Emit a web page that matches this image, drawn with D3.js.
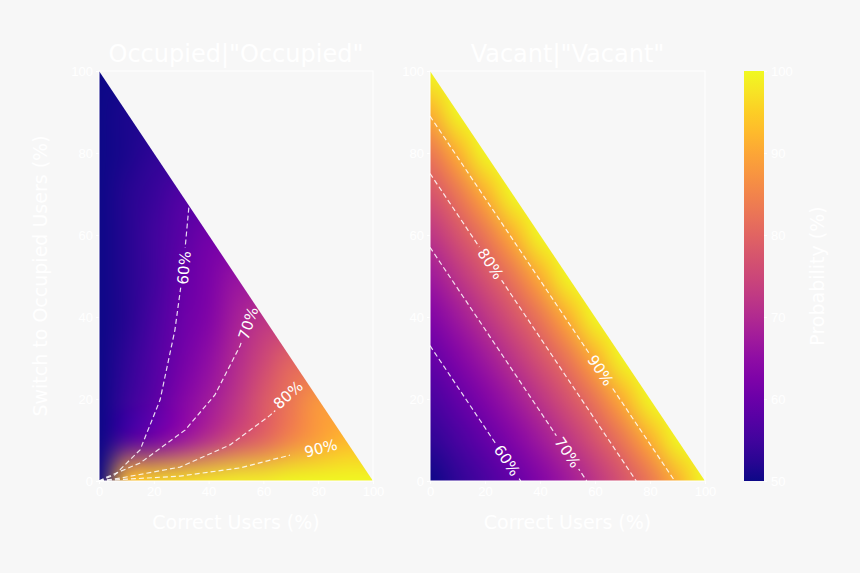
<!DOCTYPE html>
<html><head><meta charset="utf-8">
<script src="https://cdn.jsdelivr.net/npm/d3@7"></script>
<style>body{margin:0;background:#f7f7f7}svg{font-family:"DejaVu Sans",sans-serif}</style>
</head><body><div id="chart"></div>
<script>
// read-off estimates, rows = switch users 0..100 step 10, cols = correct users 0..(100-s)
const occupiedGrid = [
  [50, 93, 96, 97, 98, 99, 99, 100, 100, 100, 100],
  [50, 56, 61, 66, 71, 76, 80, 85, 89, 92],
  [50, 54, 58, 63, 67, 72, 78, 83, 88],
  [50, 53, 57, 61, 65, 70, 75, 80],
  [50, 52, 56, 60, 63, 68, 72],
  [50, 52, 55, 59, 62, 66],
  [50, 52, 55, 58, 61],
  [50, 52, 54, 57],
  [50, 51, 53],
  [50, 51],
  [50]
];
// vacant panel depends on correct + switch total, 0..100 step 10
const vacantByTotal = [50, 53, 56, 59, 63, 67, 72, 77, 83, 91, 100];

// contour lines [correct, switch]
const occContours = [
  {label: '60%', pts: [[0,0],[5.8,1.5],[15,7.6],[22.3,19.8],[27.7,36.8],[30.7,51.5],[32.8,66.8]], at: [31, 52]},
  {label: '70%', pts: [[0,0],[2,0.7],[15,4.4],[31.4,12.4],[42.3,21],[51.5,33],[54,38]], at: [54.5, 38.5]},
  {label: '80%', pts: [[0,0],[7.7,0.7],[29.6,3.4],[47.8,8.8],[62.4,16],[69,20]], at: [69, 21]},
  {label: '90%', pts: [[0,0],[4,0.2],[29.6,1.2],[51.5,3.2],[69.7,6.3]], at: [81, 8]}
];
const vacContours = [
  {label: '60%', total: 33, at: [28, 5]},
  {label: '70%', total: 57, at: [50, 7]},
  {label: '80%', total: 75, at: [22, 53]},
  {label: '90%', total: 89, at: [62, 27]}
];
const ticks = [0, 20, 40, 60, 80, 100];
const cbTicks = [50, 60, 70, 80, 90, 100];

const W = 860, H = 573;
const svg = d3.select('#chart').append('svg').attr('width', W).attr('height', H);
svg.append('rect').attr('width', W).attr('height', H).attr('fill', '#f7f7f7');
const color = d3.scaleSequential(d3.interpolatePlasma).domain([50, 100]);
const y = d3.scaleLinear().domain([0, 100]).range([481, 71]);
const fg = '#ffffff';

function gridCanvas(valueAt) {
  const c = document.createElement('canvas');
  c.width = 11; c.height = 11;
  const ctx = c.getContext('2d');
  const img = ctx.createImageData(11, 11);
  for (let s = 0; s <= 10; s++) for (let k = 0; k <= 10; k++) {
    // outside the triangle, reuse nearest edge value so smoothing stays clean
    const kk = Math.min(k, 10 - s);
    const v = valueAt(kk, s);
    const col = d3.rgb(color(v));
    const i = ((10 - s) * 11 + k) * 4;
    img.data[i] = col.r; img.data[i + 1] = col.g; img.data[i + 2] = col.b; img.data[i + 3] = 255;
  }
  ctx.putImageData(img, 0, 0);
  const big = document.createElement('canvas');
  big.width = 440; big.height = 440;
  const b = big.getContext('2d');
  b.imageSmoothingEnabled = true;
  b.imageSmoothingQuality = 'high';
  b.drawImage(c, 0, 0, 11, 11, 0, 0, 440, 440);
  return big.toDataURL();
}

function panel(x0, x1, id, title, valueAt, drawContours) {
  const x = d3.scaleLinear().domain([0, 100]).range([x0, x1]);
  const g = svg.append('g');
  const tri = `M${x(0)},${y(0)}L${x(0)},${y(100)}L${x(100)},${y(0)}Z`;
  const defs = g.append('defs');
  defs.append('clipPath').attr('id', 'clip' + id).append('path').attr('d', tri);
  // image pixel i centred at grid point i*10: span -5..105
  g.append('image').attr('href', gridCanvas(valueAt))
    .attr('x', x(-5)).attr('y', y(105))
    .attr('width', x(105) - x(-5)).attr('height', y(-5) - y(105))
    .attr('preserveAspectRatio', 'none')
    .attr('clip-path', `url(#clip${id})`);
  g.append('rect').attr('x', x0).attr('y', y(100)).attr('width', x1 - x0).attr('height', y(0) - y(100))
    .attr('fill', 'none').attr('stroke', fg).attr('stroke-width', 1);

  drawContours(g, x, defs, id);

  g.append('g').attr('transform', `translate(0,${y(0)})`)
    .call(d3.axisBottom(x).tickValues(ticks).tickSize(3).tickPadding(3))
    .call(a => a.select('.domain').remove())
    .call(a => a.selectAll('line').attr('stroke', fg))
    .call(a => a.selectAll('text').attr('fill', fg).attr('font-size', 13));
  g.append('g').attr('transform', `translate(${x0},0)`)
    .call(d3.axisLeft(y).tickValues(ticks).tickSize(3).tickPadding(3))
    .call(a => a.select('.domain').remove())
    .call(a => a.selectAll('line').attr('stroke', fg))
    .call(a => a.selectAll('text').attr('fill', fg).attr('font-size', 13));
  g.append('text').attr('x', (x0 + x1) / 2).attr('y', 62).attr('text-anchor', 'middle')
    .attr('fill', fg).attr('font-size', 24).text(title);
  g.append('text').attr('x', (x0 + x1) / 2).attr('y', 529).attr('text-anchor', 'middle')
    .attr('fill', fg).attr('font-size', 19).text('Correct Users (%)');
}

function labelled(g, x, defs, id, lines) {
  const mask = defs.append('mask').attr('id', 'mask' + id).attr('maskUnits', 'userSpaceOnUse')
    .attr('x', 0).attr('y', 0).attr('width', W).attr('height', H);
  mask.append('rect').attr('width', W).attr('height', H).attr('fill', 'white');
  const lg = g.append('g').attr('mask', `url(#mask${id})`);
  lines.forEach(l => {
    const p = l.pts;
    lg.append('path').attr('d', d3.line().x(d => x(d[0])).y(d => y(d[1]))(p))
      .attr('fill', 'none').attr('stroke', 'rgba(255,255,255,0.85)').attr('stroke-width', 1.2)
      .attr('stroke-dasharray', '5,3');
    // angle from nearest segment to label
    let best = 0, bd = 1e9;
    for (let i = 0; i < p.length - 1; i++) {
      const d = Math.hypot(p[i][0] - l.at[0], p[i][1] - l.at[1]) + Math.hypot(p[i + 1][0] - l.at[0], p[i + 1][1] - l.at[1]);
      if (d < bd) { bd = d; best = i; }
    }
    const a = p[best], b = p[best + 1];
    let ang = Math.atan2(y(b[1]) - y(a[1]), x(b[0]) - x(a[0])) * 180 / Math.PI;
    if (ang > 90) ang -= 180;
    if (ang < -90) ang += 180;
    const cx = x(l.at[0]), cy = y(l.at[1]);
    mask.append('rect').attr('x', -20).attr('y', -9).attr('width', 40).attr('height', 18)
      .attr('fill', 'black').attr('transform', `translate(${cx},${cy}) rotate(${ang})`);
    g.append('text').attr('transform', `translate(${cx},${cy}) rotate(${ang})`)
      .attr('text-anchor', 'middle').attr('dy', '0.35em').attr('fill', fg).attr('font-size', 15)
      .text(l.label);
  });
}

panel(99, 373, 'a', 'Occupied|"Occupied"',
  (k, s) => occupiedGrid[s][k],
  (g, x, defs, id) => labelled(g, x, defs, id, occContours));

panel(430, 705, 'b', 'Vacant|"Vacant"',
  (k, s) => vacantByTotal[k + s],
  (g, x, defs, id) => labelled(g, x, defs, id,
    vacContours.map(c => ({label: c.label, at: c.at, pts: [[0, c.total], [c.total, 0]]}))));

svg.append('text').attr('transform', `translate(47,276) rotate(-90)`).attr('text-anchor', 'middle')
  .attr('fill', fg).attr('font-size', 19).text('Switch to Occupied Users (%)');

// colorbar
const cb = d3.scaleLinear().domain([50, 100]).range([481, 71]);
const grad = svg.append('defs').append('linearGradient').attr('id', 'cbgrad')
  .attr('x1', 0).attr('y1', 1).attr('x2', 0).attr('y2', 0);
d3.range(0, 1.0001, 0.05).forEach(t => grad.append('stop').attr('offset', t).attr('stop-color', d3.interpolatePlasma(t)));
svg.append('rect').attr('x', 744).attr('y', 71).attr('width', 20).attr('height', 410).attr('fill', 'url(#cbgrad)');
svg.append('g').attr('transform', 'translate(764,0)')
  .call(d3.axisRight(cb).tickValues(cbTicks).tickSize(3).tickPadding(4))
  .call(a => a.select('.domain').remove())
  .call(a => a.selectAll('line').attr('stroke', fg))
  .call(a => a.selectAll('text').attr('fill', fg).attr('font-size', 13));
svg.append('text').attr('transform', `translate(824,276) rotate(-90)`).attr('text-anchor', 'middle')
  .attr('fill', fg).attr('font-size', 19).text('Probability (%)');
</script></body></html>
